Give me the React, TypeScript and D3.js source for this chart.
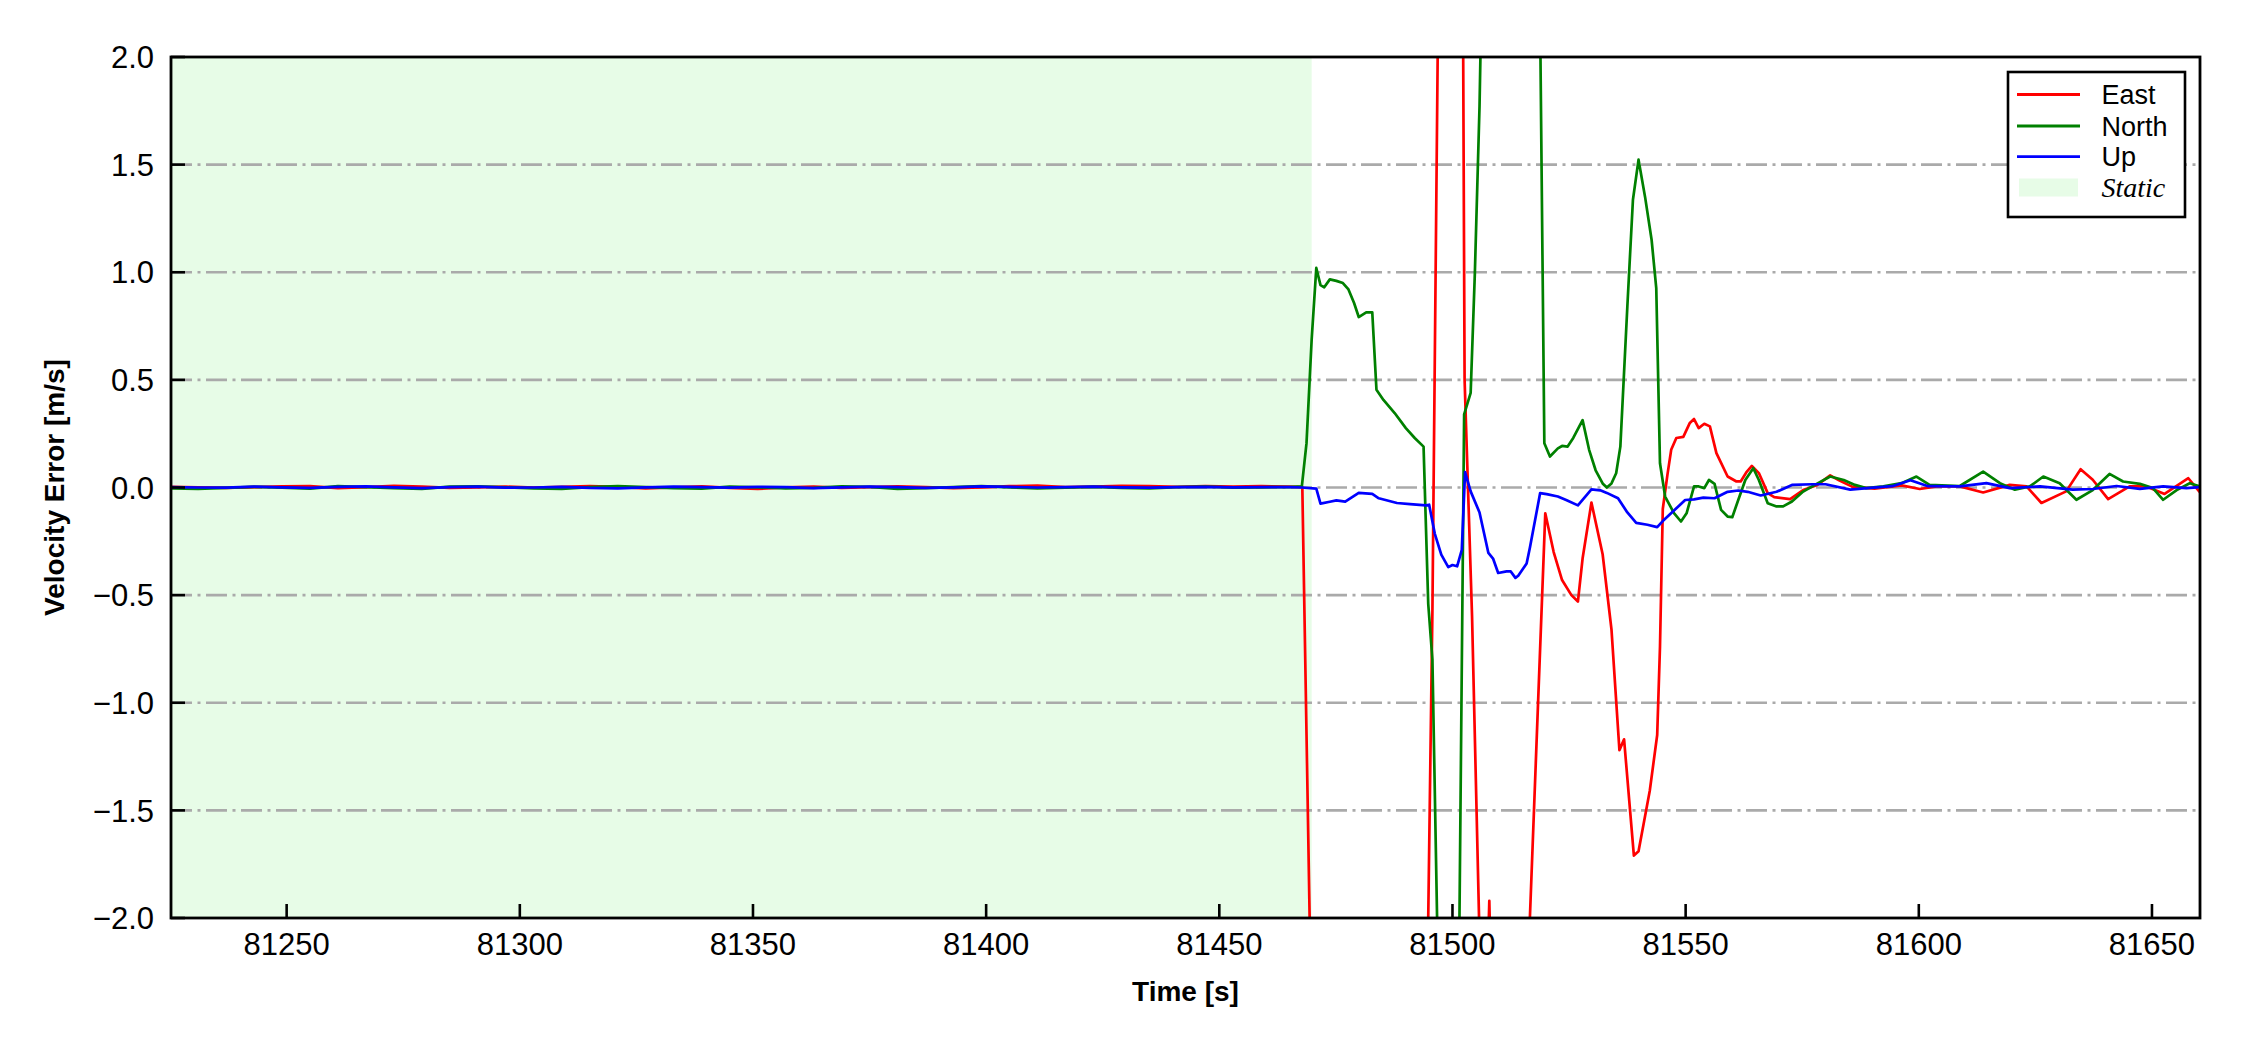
import React from "react";
import * as d3 from "d3";

const width = 2250;
const height = 1050;
const margin = { left: 171, right: 50, top: 57, bottom: 132 };

// axis setup
const xDomain = [81225.2, 81660.3];
const yDomain = [-2, 2];
const xTicks = [81250, 81300, 81350, 81400, 81450, 81500, 81550, 81600, 81650];
const yTicks = [-2, -1.5, -1, -0.5, 0, 0.5, 1, 1.5, 2];
const staticStart = 81225.2;
const staticEnd = 81469.8;

const seriesNames = ["East", "North", "Up"];
const seriesColors = ["#ff0000", "#008000", "#0000ff"];

// static period, sampled every 6 s
const staticTimes = [
  81225, 81231, 81237, 81243, 81249, 81255, 81261, 81267, 81273, 81279, 81285,
  81291, 81297, 81303, 81309, 81315, 81321, 81327, 81333, 81339, 81345, 81351,
  81357, 81363, 81369, 81375, 81381, 81387, 81393, 81399, 81405, 81411, 81417,
  81423, 81429, 81435, 81441, 81447, 81453, 81459, 81465,
];
const eastStatic = [
  0.003, 0.001, -0.002, 0.002, 0.005, 0.006, -0.003, 0.002, 0.008, 0.004, -0.002,
  0.001, 0.004, -0.001, 0.003, 0.007, 0.003, -0.004, 0.001, 0.005, -0.002, -0.007,
  0.001, 0.004, -0.002, 0.002, 0.005, 0.002, -0.003, 0.001, 0.006, 0.009, 0.002,
  0.004, 0.008, 0.006, 0.003, 0.007, 0.004, 0.006, 0.004,
];
const northStatic = [
  -0.004, -0.006, -0.002, 0.003, -0.001, -0.005, 0.006, 0.002, -0.003, -0.006, 0.004,
  0.005, 0.001, -0.004, -0.007, 0.002, 0.006, 0.002, -0.003, -0.005, 0.004, 0.001,
  -0.004, -0.002, 0.005, 0.003, -0.006, -0.003, 0.002, 0.006, 0.001, -0.004, -0.001,
  0.003, -0.002, -0.004, 0.002, 0.004, -0.001, 0.001, 0.002,
];
const upStatic = [
  0.002, 0.0, -0.001, 0.004, 0.001, -0.002, 0.003, 0.005, 0.001, -0.003, 0.002,
  0.004, -0.001, 0.0, 0.003, -0.002, -0.004, 0.001, 0.004, 0.002, -0.001, 0.003,
  0.002, -0.003, 0.001, 0.004, 0.002, -0.002, 0.001, 0.005, 0.003, 0.0, 0.002,
  0.004, 0.001, -0.001, 0.002, 0.003, 0.001, 0.002, 0.002,
];

// motion period [time, value]
const eastMotion: [number, number][] = [
  [81467.8, 0.002], [81470.0, -2.8], [81471.0, -4.0], [81493.5, -4.0], [81494.8, -2.0],
  [81495.7, -0.57], [81497.0, 2.4], [81498.0, 4.0], [81501.9, 4.0], [81502.6, 0.5],
  [81504.2, -0.6], [81505.7, -2.0], [81506.8, -2.8], [81507.9, -1.92], [81508.8, -2.8],
  [81515.7, -3.0], [81516.6, -2.0], [81519.9, -0.12], [81521.7, -0.3], [81523.5, -0.43],
  [81525.5, -0.5], [81526.9, -0.53], [81527.9, -0.33], [81529.8, -0.07], [81532.2, -0.31],
  [81534.1, -0.66], [81535.8, -1.22], [81536.8, -1.17], [81538.9, -1.71], [81539.9, -1.69],
  [81542.3, -1.41], [81543.9, -1.15], [81544.5, -0.74], [81545.1, -0.1], [81546.1, 0.06],
  [81546.9, 0.175], [81548.0, 0.23], [81549.5, 0.235], [81550.9, 0.3], [81551.8, 0.318],
  [81552.8, 0.276], [81554.0, 0.296], [81555.2, 0.284], [81556.6, 0.16], [81559.0, 0.051],
  [81560.9, 0.028], [81561.8, 0.028], [81563.0, 0.07], [81564.2, 0.1], [81565.7, 0.067],
  [81567.6, -0.026], [81569.0, -0.045], [81572.4, -0.054], [81575.2, -0.012], [81578.1, 0.01],
  [81581.0, 0.056], [81582.9, 0.033], [81585.8, 0.003], [81590.5, -0.005], [81596.3, 0.01],
  [81600.2, -0.007], [81603.8, 0.005], [81608.8, 0.005], [81613.8, -0.023], [81619.5, 0.012],
  [81623.1, 0.005], [81626.3, -0.072], [81631.6, -0.018], [81634.7, 0.085], [81637.3, 0.036],
  [81640.6, -0.054], [81645.2, 0.005], [81648.8, 0.005], [81652.7, -0.03], [81657.8, 0.043],
  [81660.3, -0.023],
];
const northMotion: [number, number][] = [
  [81467.7, 0.005], [81468.7, 0.206], [81469.8, 0.686], [81470.8, 1.02], [81471.7, 0.94],
  [81472.5, 0.93], [81473.7, 0.967], [81475.1, 0.96], [81476.5, 0.95], [81477.7, 0.92],
  [81478.9, 0.857], [81479.9, 0.792], [81481.5, 0.814], [81482.8, 0.814], [81483.7, 0.454],
  [81485.2, 0.407], [81487.6, 0.346], [81490.0, 0.276], [81491.9, 0.23], [81493.8, 0.19],
  [81494.8, -0.54], [81495.7, -0.8], [81496.7, -2.0], [81497.5, -3.2], [81500.8, -3.2],
  [81501.5, -2.0], [81502.5, 0.34], [81503.9, 0.44], [81504.8, 0.996], [81505.8, 1.77],
  [81506.5, 2.6], [81518.5, 2.8], [81519.7, 0.206], [81520.9, 0.144], [81522.6, 0.182],
  [81523.5, 0.193], [81524.7, 0.19], [81525.9, 0.23], [81527.9, 0.313], [81529.3, 0.175],
  [81530.7, 0.08], [81532.2, 0.019], [81533.1, 0.0], [81534.1, 0.019], [81535.1, 0.066],
  [81536.0, 0.19], [81537.5, 0.841], [81538.7, 1.337], [81539.9, 1.523], [81541.3, 1.35],
  [81542.7, 1.151], [81543.7, 0.926], [81544.5, 0.113], [81545.6, -0.042], [81547.5, -0.119],
  [81549.0, -0.158], [81550.2, -0.12], [81551.8, 0.005], [81552.8, 0.005], [81554.0, -0.003],
  [81555.0, 0.035], [81556.2, 0.017], [81557.6, -0.104], [81559.0, -0.135], [81560.0, -0.138],
  [81561.3, -0.057], [81562.8, 0.035], [81564.5, 0.09], [81565.7, 0.035], [81567.6, -0.073],
  [81569.5, -0.088], [81570.9, -0.088], [81572.8, -0.065], [81575.2, -0.019], [81578.1, 0.017],
  [81581.0, 0.051], [81583.9, 0.035], [81586.3, 0.012], [81588.7, -0.003], [81592.4, 0.005],
  [81596.3, 0.02], [81599.5, 0.051], [81602.3, 0.012], [81608.8, 0.007], [81613.8, 0.074],
  [81617.4, 0.02], [81620.6, -0.01], [81623.8, 0.005], [81626.7, 0.051], [81630.2, 0.02],
  [81633.8, -0.057], [81637.3, -0.012], [81640.9, 0.063], [81643.8, 0.028], [81647.4, 0.017],
  [81650.2, -0.003], [81652.4, -0.057], [81655.3, -0.012], [81658.1, 0.02], [81660.3, 0.005],
];
const upMotion: [number, number][] = [
  [81467.7, 0.0], [81470.8, -0.005], [81471.7, -0.075], [81473.7, -0.066], [81475.1, -0.06],
  [81477.0, -0.066], [81479.9, -0.025], [81482.8, -0.03], [81484.2, -0.05], [81488.1, -0.072],
  [81490.9, -0.077], [81494.3, -0.083], [81495.0, -0.08], [81496.2, -0.214], [81497.6, -0.312],
  [81499.1, -0.37], [81500.0, -0.36], [81501.0, -0.366], [81502.0, -0.29], [81502.7, 0.072],
  [81503.9, -0.018], [81505.8, -0.116], [81507.7, -0.304], [81508.7, -0.33], [81509.8, -0.397],
  [81511.6, -0.39], [81512.5, -0.39], [81513.5, -0.42], [81514.1, -0.41], [81515.9, -0.353],
  [81516.6, -0.28], [81518.8, -0.026], [81520.2, -0.031], [81522.6, -0.042], [81524.5, -0.059],
  [81526.9, -0.083], [81529.8, -0.009], [81531.7, -0.013], [81533.1, -0.025], [81535.5, -0.05],
  [81537.5, -0.116], [81539.4, -0.164], [81541.8, -0.173], [81543.9, -0.184], [81545.1, -0.156],
  [81547.5, -0.107], [81549.9, -0.058], [81551.8, -0.055], [81553.8, -0.047], [81556.2, -0.05],
  [81559.0, -0.02], [81561.3, -0.014], [81563.3, -0.02], [81566.1, -0.037], [81569.5, -0.02],
  [81572.8, 0.012], [81577.2, 0.015], [81580.0, 0.015], [81585.3, -0.01], [81589.6, -0.002],
  [81594.3, 0.006], [81598.2, 0.034], [81602.0, 0.006], [81608.8, 0.005], [81614.5, 0.02],
  [81619.5, -0.003], [81626.0, 0.005], [81633.0, -0.01], [81637.3, -0.007], [81642.4, 0.007],
  [81647.4, -0.006], [81652.4, 0.005], [81657.4, -0.003], [81660.3, 0.002],
];

const staticLabel = "Static";
const fontSans = "'Liberation Sans', Arial, sans-serif";
const fontSerif = "'Liberation Serif', 'Times New Roman', serif";
const staticFill = "#e7fce7";
const gridColor = "#aaaaaa";

const fmt = (v: number) => d3.format(".1f")(v).replace("-", "\u2212");

export default function App() {
  const x = d3.scaleLinear().domain(xDomain).range([margin.left, width - margin.right]);
  const y = d3.scaleLinear().domain(yDomain).range([height - margin.bottom, margin.top]);
  const line = d3
    .line<[number, number]>()
    .x((d) => x(d[0]))
    .y((d) => y(d[1]));

  const staticParts = [eastStatic, northStatic, upStatic];
  const motionParts = [eastMotion, northMotion, upMotion];
  const series = seriesNames.map((name, i) => ({
    name,
    color: seriesColors[i],
    points: [
      ...staticTimes.map((t, j) => [t, staticParts[i][j]] as [number, number]),
      ...motionParts[i],
    ],
  }));

  const x0 = margin.left;
  const x1 = width - margin.right;
  const y0 = height - margin.bottom;
  const y1 = margin.top;

  // legend
  const lgX = 2008;
  const lgY = 72;
  const lgW = 177;
  const lgH = 145;
  const rowY = [94.5, 126, 156.7, 187.5];

  return (
    <svg
      width={width}
      height={height}
      viewBox={`0 0 ${width} ${height}`}
      style={{ position: "absolute", left: 0, top: 0, background: "#fff" }}
    >
      <defs>
        <clipPath id="plotClip">
          <rect x={x0} y={y1} width={x1 - x0} height={y0 - y1} />
        </clipPath>
      </defs>
      <rect x={0} y={0} width={width} height={height} fill="#fff" />

      {/* static shading */}
      <rect
        x={x(staticStart)}
        y={y1}
        width={x(staticEnd) - x(staticStart)}
        height={y0 - y1}
        fill={staticFill}
      />

      {/* grid */}
      {yTicks
        .filter((v) => v > yDomain[0] && v < yDomain[1])
        .map((v) => (
          <line
            key={"g" + v}
            x1={x0}
            x2={x1}
            y1={y(v)}
            y2={y(v)}
            stroke={gridColor}
            strokeWidth={2.6}
            strokeDasharray="21 5.5 3 5.5"
          />
        ))}

      {/* series */}
      <g clipPath="url(#plotClip)">
        {series.map((s) => (
          <path
            key={s.name}
            d={line(s.points) || ""}
            fill="none"
            stroke={s.color}
            strokeWidth={2.7}
            strokeLinejoin="round"
          />
        ))}
      </g>

      {/* ticks */}
      {yTicks.map((v) => (
        <g key={"yt" + v}>
          <line x1={x0} x2={x0 + 14} y1={y(v)} y2={y(v)} stroke="#000" strokeWidth={2.6} />
          <text
            x={x0 - 17}
            y={y(v)}
            dy="0.36em"
            textAnchor="end"
            fontFamily={fontSans}
            fontSize={31}
            fill="#000"
          >
            {fmt(v)}
          </text>
        </g>
      ))}
      {xTicks.map((v) => (
        <g key={"xt" + v}>
          <line x1={x(v)} x2={x(v)} y1={y0} y2={y0 - 14} stroke="#000" strokeWidth={2.6} />
          <text
            x={x(v)}
            y={955}
            textAnchor="middle"
            fontFamily={fontSans}
            fontSize={31}
            fill="#000"
          >
            {v}
          </text>
        </g>
      ))}

      {/* spines */}
      <rect x={x0} y={y1} width={x1 - x0} height={y0 - y1} fill="none" stroke="#000" strokeWidth={2.8} />

      {/* axis labels */}
      <text
        x={(x0 + x1) / 2}
        y={1001}
        textAnchor="middle"
        fontFamily={fontSans}
        fontWeight="bold"
        fontSize={28}
        fill="#000"
      >
        Time [s]
      </text>
      <text
        transform={`translate(64, ${(y0 + y1) / 2}) rotate(-90)`}
        textAnchor="middle"
        fontFamily={fontSans}
        fontWeight="bold"
        fontSize={28}
        fill="#000"
      >
        Velocity Error [m/s]
      </text>

      {/* legend */}
      <rect x={lgX} y={lgY} width={lgW} height={lgH} fill="#fff" stroke="#000" strokeWidth={2.6} />
      {series.map((s, i) => (
        <g key={"lg" + s.name}>
          <line x1={2017} x2={2080} y1={rowY[i]} y2={rowY[i]} stroke={s.color} strokeWidth={2.8} />
          <text
            x={2101.5}
            y={rowY[i]}
            dy="0.36em"
            fontFamily={fontSans}
            fontSize={27}
            fill="#000"
          >
            {s.name}
          </text>
        </g>
      ))}
      <rect x={2019} y={rowY[3] - 9} width={59} height={18} fill={staticFill} />
      <text
        x={2101.5}
        y={rowY[3]}
        dy="0.33em"
        fontFamily={fontSerif}
        fontStyle="italic"
        fontSize={28}
        fill="#000"
      >
        {staticLabel}
      </text>
    </svg>
  );
}
